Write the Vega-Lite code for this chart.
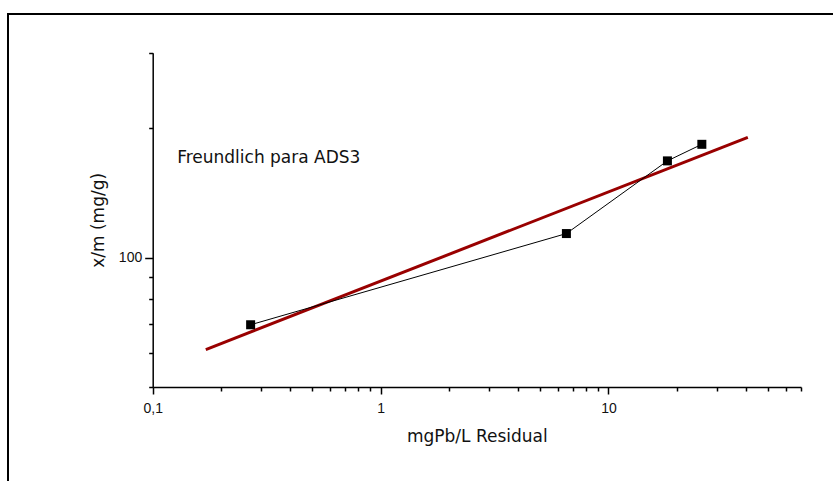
{
  "$schema": "https://vega.github.io/schema/vega-lite/v6.json",
  "autosize": {"type": "none"},
  "padding": {"left": 8, "top": 14, "right": 0, "bottom": 0},
  "width": 830,
  "height": 470,
  "background": "white",
  "config": {
    "view": {"stroke": "black", "strokeWidth": 2},
    "font": "Liberation Sans",
    "axis": {
      "grid": false,
      "domainColor": "black",
      "domainWidth": 1.5,
      "tickColor": "black",
      "tickWidth": 1.5,
      "labelColor": "#111111",
      "labelFont": "Liberation Sans",
      "labelFontSize": 14,
      "titleFont": "DejaVu Sans",
      "titleFontSize": 17,
      "titleFontWeight": "normal",
      "titleColor": "#111111",
      "labelOverlap": false,
      "labelFlush": false
    }
  },
  "datasets": {
    "obs": [
      {"x": 0.269, "y": 69.8},
      {"x": 6.54, "y": 113.8},
      {"x": 18.15, "y": 168.0},
      {"x": 25.7, "y": 183.6}
    ],
    "fit": [
      {"x": 0.171, "y": 61.1},
      {"x": 40.9, "y": 190.6}
    ],
    "lbl": [
      {"x": 0.128, "y": 170.7, "text": "Freundlich para ADS3"}
    ]
  },
  "layer": [
    {
      "data": {"name": "fit"},
      "mark": {"type": "line", "color": "#990000", "strokeWidth": 3},
      "encoding": {
        "x": {
          "field": "x", "type": "quantitative",
          "scale": {"type": "log", "domain": [0.1, 70], "range": [144.7, 793], "nice": false, "zero": false},
          "axis": {
            "title": "mgPb/L Residual",
            "offset": -97,
            "values": [0.1, 0.2, 0.3, 0.4, 0.5, 0.6, 0.7, 0.8, 0.9, 1, 2, 3, 4, 5, 6, 7, 8, 9, 10, 20, 30, 40, 50, 60, 70],
            "labelExpr": "datum.value == 0.1 ? '0,1' : (datum.value == 1 ? '1' : (datum.value == 10 ? '10' : ''))",
            "tickSize": {"condition": {"test": "datum.value == 0.1 || datum.value == 1 || datum.value == 10", "value": 7}, "value": 4},
            "labelPadding": 7,
            "titlePadding": 13
          }
        },
        "y": {
          "field": "y", "type": "quantitative",
          "scale": {"type": "log", "domain": [50, 300], "range": [373, 38.7], "nice": false, "zero": false},
          "axis": {
            "title": "x/m (mg/g)",
            "offset": -144.7,
            "values": [50, 60, 70, 80, 90, 100, 200, 300],
            "labelExpr": "datum.value == 100 ? '100' : ''",
            "tickSize": {"condition": {"test": "datum.value == 100", "value": 8}, "value": 4},
            "labelPadding": 3,
            "titlePadding": 11
          }
        }
      }
    },
    {
      "data": {"name": "obs"},
      "mark": {"type": "line", "color": "black", "strokeWidth": 1, "point": {"shape": "square", "size": 81, "filled": true, "color": "black", "opacity": 1}},
      "encoding": {
        "x": {"field": "x", "type": "quantitative"},
        "y": {"field": "y", "type": "quantitative"}
      }
    },
    {
      "data": {"name": "lbl"},
      "mark": {"type": "text", "align": "left", "baseline": "middle", "fontSize": 17, "font": "DejaVu Sans", "color": "#111111"},
      "encoding": {
        "x": {"field": "x", "type": "quantitative"},
        "y": {"field": "y", "type": "quantitative"},
        "text": {"field": "text"}
      }
    }
  ]
}
